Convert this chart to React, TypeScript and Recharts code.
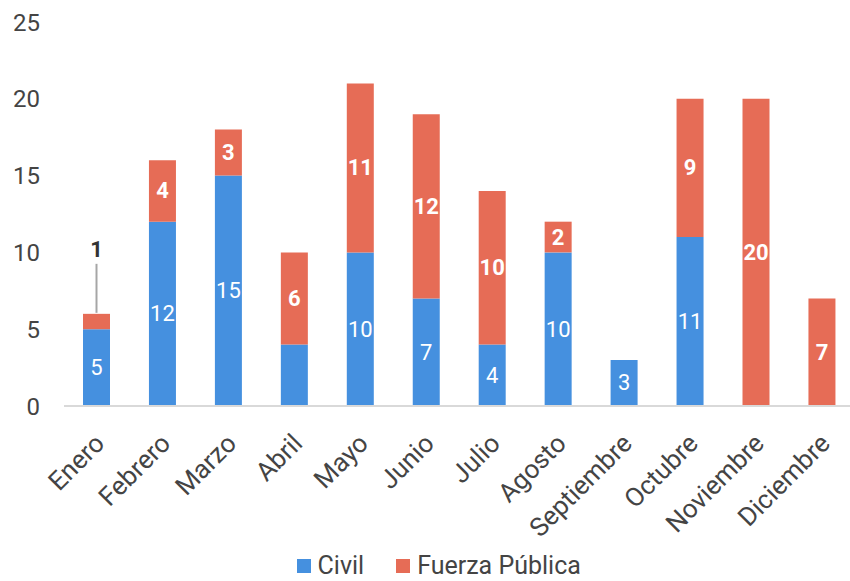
import { BarChart, Bar, XAxis, YAxis, Legend, LabelList } from 'recharts';

const months = ['Enero', 'Febrero', 'Marzo', 'Abril', 'Mayo', 'Junio', 'Julio', 'Agosto', 'Septiembre', 'Octubre', 'Noviembre', 'Diciembre'];
const civil = [5, 12, 15, 4, 10, 7, 4, 10, 3, 11, 0, 0];
const fuerza = [1, 4, 3, 6, 11, 12, 10, 2, 0, 9, 20, 7];
const yTicks = [0, 5, 10, 15, 20, 25];
const hiddenCivilLabels = ['Abril'];

const BLUE = '#4590DF';
const RED = '#E66C56';
const FONT = 'Roboto, sans-serif';

const data = months.map((m, i) => ({ month: m, civil: civil[i], fuerza: fuerza[i] }));

const makeLabel = (bold: boolean, hidden: string[]) => (props: any) => {
  const { x, y, width, height, value, index } = props;
  if (!value) return null;
  if (hidden.includes(months[index])) return null;
  const cx = x + width / 2;
  if (height < 22) {
    return (
      <g>
        <line x1={cx} x2={cx} y1={y - 1} y2={y - 50} stroke="#a6a6a6" strokeWidth={2} />
        <text x={cx} y={y - 64} textAnchor="middle" dominantBaseline="central" fill="#333" fontSize={22} fontWeight="bold" fontFamily={FONT}>
          {value}
        </text>
      </g>
    );
  }
  return (
    <text x={cx} y={y + height / 2} textAnchor="middle" dominantBaseline="central" fill="#fff" fontSize={22} fontWeight={bold ? 'bold' : 'normal'} fontFamily={FONT}>
      {value}
    </text>
  );
};

const legendItems = [
  { name: 'Civil', color: BLUE },
  { name: 'Fuerza Pública', color: RED },
];

const renderLegend = () => (
  <div style={{ display: 'flex', justifyContent: 'center', alignItems: 'center', height: 30, lineHeight: '30px', fontFamily: FONT, fontSize: 25, color: '#444', gap: 32, paddingLeft: 22 }}>
    {legendItems.map((it) => (
      <div key={it.name} style={{ display: 'flex', alignItems: 'center' }}>
        <div style={{ width: 14, height: 14, background: it.color, marginRight: 7 }} />
        <span>{it.name}</span>
      </div>
    ))}
  </div>
);

export default function App() {
  return (
    <div style={{ position: 'absolute', left: 0, top: 0, width: 850, height: 581, overflow: 'hidden', background: '#fff' }}>
      <BarChart width={860} height={581} data={data} margin={{ top: 22, right: 4.6, left: 0, bottom: 0 }} barSize={27}>
        <YAxis
          domain={[0, 25]}
          ticks={yTicks}
          axisLine={false}
          tickLine={false}
          width={64}
          tickMargin={18}
          tick={{ fill: '#444', fontSize: 24, fontFamily: FONT }}
        />
        <XAxis
          dataKey="month"
          interval={0}
          axisLine={{ stroke: '#d9d9d9', strokeWidth: 2 }}
          tickLine={false}
          height={145}
          angle={-45}
          textAnchor="end"
          tick={{ fill: '#444', fontSize: 26, fontFamily: FONT, dx: -4, dy: 18 }}
        />
        <Legend verticalAlign="bottom" height={30} content={renderLegend} />
        <Bar dataKey="civil" name="Civil" stackId="a" fill={BLUE} isAnimationActive={false}>
          <LabelList dataKey="civil" content={makeLabel(false, hiddenCivilLabels)} />
        </Bar>
        <Bar dataKey="fuerza" name="Fuerza Pública" stackId="a" fill={RED} isAnimationActive={false}>
          <LabelList dataKey="fuerza" content={makeLabel(true, [])} />
        </Bar>
      </BarChart>
    </div>
  );
}
